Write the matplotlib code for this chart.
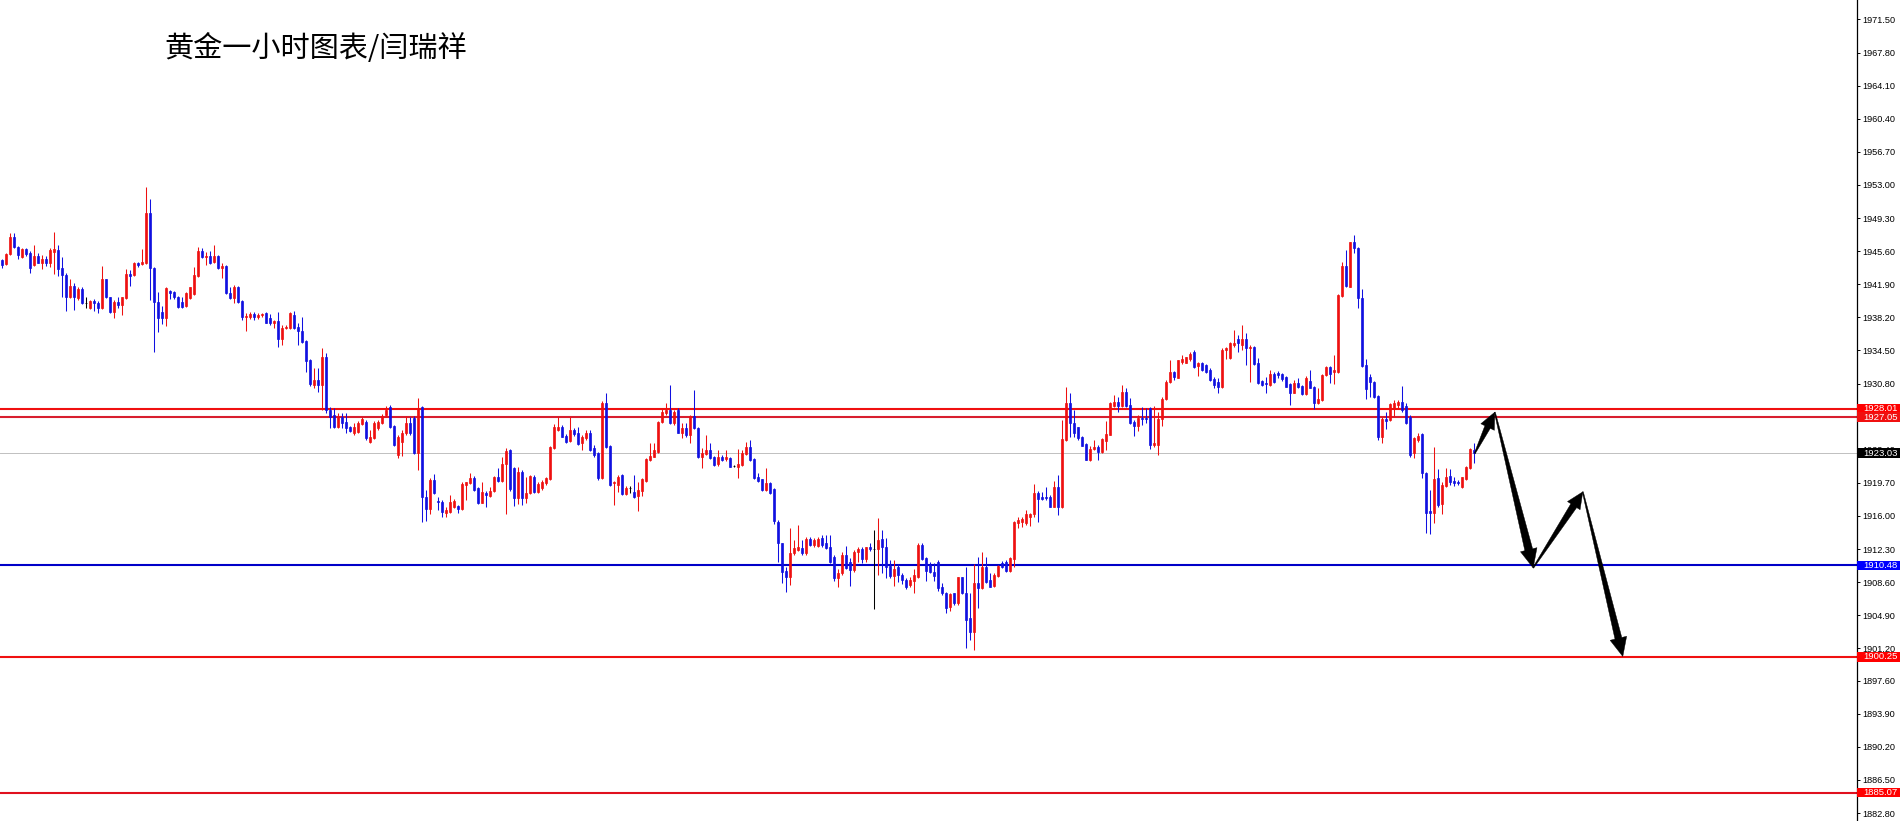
import numpy as np
import matplotlib.pyplot as plt
from matplotlib.patches import Polygon, Rectangle
import matplotlib.transforms as mtransforms


# Hourly gold candles (MT4 style: red = up, blue = down)
opens = [
    1944.61, 1944.12, 1945.28, 1947.14, 1946.10, 1944.98, 1945.80, 1945.43, 1944.05, 1945.05,
    1944.31, 1944.76, 1944.24, 1945.54, 1945.73, 1943.68, 1942.93, 1940.51, 1941.70, 1940.32,
    1941.40, 1939.84, 1939.21, 1940.06, 1939.84, 1939.21, 1942.52, 1940.44, 1938.83, 1939.91,
    1939.58, 1940.32, 1943.04, 1942.93, 1944.24, 1944.16, 1944.24, 1949.90, 1943.68, 1939.95,
    1938.83, 1938.09, 1941.14, 1941.07, 1940.51, 1939.95, 1939.47, 1940.32, 1940.81, 1942.82,
    1945.65, 1944.91, 1945.05, 1944.38, 1945.05, 1943.68, 1943.94, 1940.96, 1940.32, 1941.63,
    1940.06, 1938.20, 1938.20, 1938.57, 1938.27, 1938.46, 1938.65, 1938.09, 1937.53, 1937.83,
    1935.74, 1936.97, 1936.97, 1938.46, 1937.16, 1936.71, 1935.59, 1933.43, 1930.64, 1931.19,
    1930.64, 1933.80, 1927.84, 1927.28, 1925.98, 1927.06, 1926.50, 1925.95, 1925.27, 1925.39,
    1926.28, 1926.50, 1924.27, 1924.71, 1925.83, 1926.39, 1927.29, 1928.18, 1926.06, 1922.81,
    1924.27, 1925.27, 1926.39, 1926.95, 1923.04, 1928.18, 1918.12, 1916.78, 1920.02, 1917.67,
    1917.56, 1916.33, 1916.44, 1917.00, 1917.11, 1916.78, 1919.46, 1919.69, 1920.24, 1919.13,
    1917.45, 1918.57, 1918.23, 1918.79, 1920.36, 1919.91, 1921.81, 1923.37, 1921.36, 1918.01,
    1920.91, 1918.01, 1918.57, 1920.36, 1918.68, 1919.13, 1919.69, 1920.13, 1923.60, 1925.61,
    1925.95, 1924.94, 1924.38, 1925.61, 1925.27, 1924.16, 1924.71, 1925.27, 1923.60, 1923.04,
    1920.24, 1928.63, 1923.82, 1919.69, 1919.46, 1920.58, 1918.45, 1919.13, 1918.68, 1918.23,
    1918.79, 1919.91, 1922.26, 1922.59, 1923.15, 1926.50, 1927.51, 1927.85, 1926.39, 1927.85,
    1925.27, 1925.83, 1925.05, 1927.17, 1925.83, 1922.59, 1922.93, 1923.37, 1922.59, 1921.81,
    1922.59, 1922.37, 1922.48, 1921.58, 1921.47, 1921.70, 1922.93, 1923.71, 1922.37, 1920.36,
    1920.13, 1918.90, 1919.69, 1919.01, 1915.33, 1912.98, 1909.85, 1909.18, 1911.86, 1912.20,
    1912.42, 1911.86, 1913.43, 1912.75, 1912.64, 1913.54, 1912.98, 1912.53, 1911.42, 1909.07,
    1909.62, 1911.64, 1910.86, 1909.96, 1911.97, 1912.31, 1911.19, 1912.53, 1912.31, 1912.31,
    1913.43, 1912.53, 1910.41, 1909.29, 1910.30, 1909.40, 1908.84, 1908.29, 1908.73, 1909.18,
    1912.75, 1911.30, 1910.52, 1909.74, 1910.86, 1908.06, 1907.39, 1905.83, 1907.39, 1906.27,
    1909.18, 1907.39, 1904.60, 1903.03, 1908.51, 1907.95, 1910.30, 1908.84, 1908.17, 1909.29,
    1910.74, 1910.86, 1909.85, 1911.19, 1915.21, 1915.33, 1915.21, 1915.88, 1916.22, 1918.57,
    1918.12, 1918.12, 1918.12, 1917.00, 1919.24, 1917.00, 1924.49, 1928.63, 1926.39, 1925.95,
    1924.83, 1924.04, 1922.26, 1923.48, 1923.71, 1923.15, 1924.38, 1925.05, 1928.29, 1928.74,
    1928.29, 1929.86, 1928.40, 1926.50, 1926.06, 1926.95, 1926.95, 1928.07, 1923.93, 1923.93,
    1926.84, 1929.07, 1930.97, 1932.09, 1931.42, 1933.21, 1933.10, 1933.54, 1934.33, 1932.76,
    1933.10, 1932.87, 1932.32, 1931.31, 1930.97, 1930.41, 1934.55, 1933.65, 1935.11, 1935.78,
    1935.11, 1935.78, 1934.77, 1934.88, 1933.10, 1931.09, 1930.86, 1930.64, 1931.87, 1931.98,
    1931.87, 1931.53, 1930.75, 1929.74, 1930.86, 1930.53, 1929.63, 1931.09, 1930.41, 1928.63,
    1928.96, 1931.76, 1932.65, 1932.09, 1932.09, 1940.59, 1943.94, 1941.59, 1946.62, 1945.95,
    1940.36, 1932.87, 1931.53, 1930.97, 1929.41, 1924.83, 1926.84, 1926.73, 1927.96, 1928.40,
    1928.74, 1928.29, 1927.06, 1923.04, 1924.49, 1925.16, 1920.80, 1916.56, 1916.33, 1920.24,
    1917.34, 1919.35, 1920.47, 1919.91, 1919.80, 1919.24, 1920.13, 1921.36, 1923.40,
]
highs = [
    1944.68, 1945.43, 1947.59, 1947.66, 1946.17, 1945.91, 1945.90, 1945.65, 1946.28, 1945.43,
    1945.17, 1945.05, 1945.91, 1947.77, 1946.28, 1944.98, 1943.12, 1942.45, 1942.00, 1941.55,
    1941.55, 1940.44, 1940.14, 1940.25, 1940.06, 1943.94, 1942.52, 1940.51, 1940.14, 1940.44,
    1940.51, 1943.56, 1943.49, 1944.42, 1944.38, 1945.80, 1952.80, 1951.39, 1943.79, 1941.07,
    1939.47, 1941.55, 1941.25, 1941.18, 1940.59, 1940.44, 1941.07, 1941.63, 1943.86, 1946.10,
    1945.91, 1945.54, 1945.65, 1946.28, 1945.17, 1944.31, 1944.05, 1941.63, 1941.81, 1941.70,
    1940.14, 1938.65, 1938.83, 1938.80, 1938.72, 1938.72, 1938.83, 1938.57, 1937.90, 1938.83,
    1937.34, 1937.34, 1938.83, 1938.95, 1937.53, 1938.20, 1935.67, 1933.50, 1932.50, 1932.50,
    1934.73, 1934.25, 1928.21, 1928.03, 1927.47, 1927.51, 1927.51, 1926.06, 1926.39, 1926.62,
    1927.06, 1926.73, 1925.61, 1926.62, 1926.73, 1927.40, 1928.29, 1928.40, 1926.17, 1925.05,
    1925.61, 1927.17, 1927.06, 1927.17, 1929.18, 1928.30, 1918.90, 1920.24, 1920.69, 1918.12,
    1917.78, 1917.00, 1918.34, 1917.90, 1917.23, 1919.80, 1919.80, 1920.80, 1920.47, 1919.24,
    1919.80, 1918.79, 1919.24, 1920.47, 1921.36, 1922.59, 1923.60, 1923.48, 1921.47, 1921.47,
    1921.14, 1920.36, 1920.58, 1920.58, 1919.80, 1920.02, 1920.36, 1923.82, 1926.28, 1927.06,
    1926.17, 1925.16, 1927.06, 1925.83, 1925.95, 1925.05, 1925.61, 1925.61, 1923.93, 1923.15,
    1928.85, 1929.74, 1923.93, 1919.91, 1920.58, 1920.69, 1919.35, 1919.35, 1920.58, 1919.80,
    1920.24, 1922.48, 1924.16, 1924.16, 1926.62, 1928.07, 1928.63, 1930.64, 1927.85, 1928.07,
    1926.39, 1926.39, 1927.29, 1930.08, 1925.95, 1923.60, 1925.05, 1924.16, 1922.70, 1923.37,
    1922.81, 1923.37, 1922.59, 1921.70, 1923.48, 1923.37, 1924.27, 1924.49, 1922.48, 1920.80,
    1920.13, 1921.36, 1919.80, 1919.13, 1915.55, 1912.98, 1910.30, 1914.65, 1913.31, 1914.99,
    1913.31, 1913.65, 1913.65, 1913.54, 1913.65, 1913.87, 1913.87, 1913.87, 1911.64, 1910.07,
    1911.97, 1912.64, 1911.30, 1912.20, 1912.53, 1912.53, 1912.53, 1912.98, 1914.43, 1915.77,
    1914.43, 1913.54, 1911.08, 1911.08, 1910.63, 1909.62, 1909.07, 1909.18, 1910.07, 1912.98,
    1912.98, 1911.42, 1910.86, 1910.74, 1911.08, 1908.51, 1907.50, 1907.39, 1907.39, 1909.18,
    1909.18, 1910.30, 1907.39, 1910.63, 1911.42, 1911.97, 1911.42, 1909.62, 1909.62, 1910.52,
    1910.97, 1911.08, 1911.42, 1915.44, 1915.88, 1915.88, 1916.67, 1916.33, 1919.57, 1918.79,
    1918.68, 1919.24, 1918.34, 1919.91, 1920.58, 1926.73, 1930.41, 1929.74, 1927.85, 1925.95,
    1924.94, 1924.16, 1923.82, 1924.49, 1923.93, 1924.71, 1926.62, 1928.74, 1929.52, 1929.30,
    1930.64, 1930.30, 1929.18, 1926.73, 1927.29, 1928.18, 1928.07, 1928.18, 1928.29, 1927.62,
    1929.30, 1931.20, 1933.43, 1932.20, 1933.43, 1933.99, 1933.77, 1934.33, 1934.55, 1933.21,
    1933.21, 1932.98, 1932.54, 1931.53, 1931.42, 1934.77, 1934.88, 1935.44, 1936.78, 1936.23,
    1937.35, 1936.45, 1935.11, 1935.00, 1933.65, 1931.20, 1931.53, 1932.32, 1932.09, 1932.20,
    1931.98, 1931.64, 1930.86, 1931.20, 1931.42, 1930.64, 1931.64, 1932.32, 1930.53, 1930.30,
    1931.87, 1932.76, 1932.76, 1933.99, 1940.81, 1944.39, 1945.73, 1946.62, 1947.40, 1946.06,
    1941.37, 1933.54, 1931.87, 1931.09, 1929.52, 1927.06, 1927.62, 1928.63, 1928.96, 1928.96,
    1930.53, 1928.63, 1927.29, 1924.83, 1925.27, 1925.27, 1920.91, 1918.90, 1923.71, 1921.25,
    1919.80, 1921.36, 1921.25, 1920.36, 1920.02, 1920.36, 1921.58, 1923.60, 1924.16,
]
lows = [
    1943.68, 1944.05, 1945.17, 1945.91, 1944.68, 1944.79, 1945.10, 1943.12, 1943.94, 1944.24,
    1943.56, 1943.94, 1943.86, 1943.04, 1942.82, 1940.51, 1938.95, 1940.32, 1939.02, 1940.14,
    1939.69, 1939.21, 1939.10, 1938.95, 1938.65, 1939.10, 1940.32, 1938.72, 1938.09, 1939.21,
    1938.46, 1940.21, 1941.70, 1942.82, 1943.86, 1944.05, 1944.16, 1940.14, 1934.36, 1936.60,
    1937.46, 1937.23, 1940.21, 1940.21, 1939.21, 1939.28, 1939.39, 1940.21, 1940.70, 1942.75,
    1944.79, 1944.05, 1944.16, 1944.24, 1943.56, 1942.56, 1940.81, 1940.21, 1939.84, 1939.76,
    1937.90, 1936.71, 1937.98, 1937.90, 1937.98, 1938.27, 1937.53, 1937.34, 1936.97, 1934.85,
    1935.11, 1936.86, 1936.86, 1936.86, 1935.11, 1935.37, 1932.13, 1930.52, 1930.26, 1929.89,
    1927.84, 1927.54, 1925.79, 1925.79, 1925.79, 1925.83, 1925.27, 1925.39, 1925.05, 1925.27,
    1926.17, 1924.49, 1924.16, 1924.60, 1925.61, 1926.28, 1927.06, 1925.83, 1923.82, 1922.48,
    1922.70, 1925.05, 1925.05, 1922.93, 1921.14, 1915.33, 1915.44, 1916.22, 1918.45, 1916.67,
    1915.88, 1915.88, 1916.33, 1916.89, 1916.33, 1916.67, 1917.78, 1919.57, 1918.79, 1917.34,
    1917.45, 1917.00, 1918.12, 1918.68, 1919.80, 1919.80, 1916.22, 1918.79, 1917.11, 1917.34,
    1917.23, 1917.45, 1918.45, 1918.57, 1918.57, 1918.90, 1919.46, 1920.02, 1923.48, 1925.50,
    1924.83, 1924.16, 1924.27, 1924.94, 1923.93, 1923.37, 1924.49, 1923.26, 1922.59, 1920.02,
    1920.13, 1923.60, 1919.35, 1917.23, 1918.68, 1918.34, 1918.34, 1918.57, 1918.01, 1916.56,
    1918.23, 1919.80, 1922.14, 1922.59, 1923.04, 1926.39, 1927.29, 1926.28, 1926.17, 1925.27,
    1924.71, 1924.83, 1924.16, 1925.72, 1922.48, 1921.36, 1922.81, 1922.37, 1921.58, 1921.58,
    1922.14, 1922.14, 1921.47, 1921.47, 1920.24, 1921.58, 1922.81, 1922.14, 1920.13, 1919.80,
    1918.79, 1918.79, 1918.45, 1915.10, 1910.86, 1908.51, 1907.50, 1908.29, 1911.64, 1912.09,
    1911.64, 1911.64, 1912.64, 1912.53, 1912.53, 1912.53, 1912.31, 1910.74, 1908.73, 1908.06,
    1909.40, 1910.07, 1908.17, 1909.74, 1910.86, 1910.74, 1910.86, 1912.09, 1905.60, 1909.40,
    1909.62, 1909.07, 1909.07, 1908.17, 1908.62, 1908.40, 1907.84, 1908.06, 1907.39, 1909.07,
    1911.08, 1908.73, 1909.62, 1908.73, 1907.62, 1907.17, 1905.16, 1905.38, 1906.05, 1906.05,
    1907.28, 1901.24, 1902.14, 1901.02, 1905.71, 1907.84, 1908.51, 1908.06, 1908.06, 1909.18,
    1910.18, 1909.74, 1909.74, 1910.30, 1914.65, 1914.76, 1914.99, 1914.88, 1915.88, 1915.33,
    1917.78, 1917.78, 1917.00, 1917.00, 1916.11, 1916.89, 1924.38, 1924.83, 1924.83, 1924.49,
    1923.82, 1922.26, 1922.14, 1923.37, 1922.26, 1923.04, 1923.37, 1925.05, 1928.18, 1927.62,
    1928.18, 1928.18, 1926.28, 1924.94, 1925.50, 1926.17, 1926.39, 1923.48, 1923.71, 1922.81,
    1926.06, 1928.96, 1930.86, 1931.20, 1931.42, 1932.98, 1933.10, 1933.32, 1932.54, 1931.64,
    1932.20, 1931.98, 1931.09, 1930.30, 1929.74, 1930.30, 1933.54, 1933.54, 1934.88, 1934.33,
    1934.55, 1932.87, 1930.97, 1932.87, 1930.75, 1930.53, 1929.74, 1930.53, 1930.86, 1931.42,
    1931.09, 1930.41, 1928.40, 1929.74, 1930.30, 1929.52, 1929.52, 1930.30, 1927.96, 1928.51,
    1928.85, 1931.64, 1930.86, 1930.75, 1931.98, 1940.47, 1941.59, 1941.59, 1945.40, 1939.25,
    1932.65, 1929.07, 1929.30, 1929.18, 1924.49, 1924.16, 1925.72, 1926.62, 1927.06, 1927.96,
    1927.62, 1926.28, 1922.59, 1922.48, 1924.27, 1920.24, 1914.10, 1913.99, 1915.21, 1917.00,
    1916.22, 1919.24, 1919.46, 1919.35, 1919.46, 1919.13, 1920.02, 1921.25, 1921.92,
]
closes = [
    1944.05, 1945.28, 1947.22, 1946.10, 1945.17, 1945.80, 1945.28, 1943.68, 1945.05, 1944.31,
    1944.76, 1944.24, 1945.73, 1945.80, 1943.56, 1942.93, 1940.51, 1941.70, 1940.51, 1941.33,
    1939.76, 1939.84, 1940.06, 1939.84, 1939.21, 1942.45, 1940.44, 1938.83, 1939.95, 1939.58,
    1940.44, 1943.04, 1942.82, 1944.24, 1944.09, 1944.38, 1949.90, 1943.68, 1939.95, 1938.09,
    1938.09, 1941.44, 1940.96, 1940.44, 1939.32, 1939.32, 1940.88, 1941.63, 1942.93, 1945.65,
    1944.91, 1945.05, 1944.31, 1945.05, 1943.68, 1943.94, 1940.88, 1940.32, 1941.63, 1939.95,
    1938.20, 1938.35, 1938.57, 1938.20, 1938.46, 1938.57, 1937.60, 1937.53, 1937.83, 1935.74,
    1936.97, 1937.16, 1938.65, 1936.97, 1936.71, 1935.48, 1933.36, 1930.75, 1931.19, 1930.64,
    1933.80, 1927.84, 1927.10, 1925.98, 1927.10, 1926.39, 1925.83, 1925.50, 1925.95, 1926.39,
    1926.84, 1924.71, 1924.83, 1926.39, 1926.50, 1927.17, 1927.85, 1925.95, 1923.93, 1924.83,
    1925.27, 1926.39, 1925.27, 1923.04, 1928.07, 1918.12, 1916.78, 1920.02, 1918.57, 1917.56,
    1916.44, 1916.67, 1917.56, 1917.67, 1916.78, 1919.57, 1919.80, 1920.24, 1918.90, 1917.45,
    1918.68, 1918.34, 1918.79, 1920.36, 1919.91, 1921.81, 1923.26, 1919.01, 1918.01, 1920.91,
    1918.01, 1918.57, 1920.47, 1918.68, 1919.57, 1919.80, 1920.24, 1923.71, 1925.95, 1925.95,
    1924.83, 1924.27, 1925.61, 1925.16, 1924.04, 1924.83, 1925.27, 1923.37, 1922.81, 1920.24,
    1928.63, 1923.71, 1919.46, 1919.80, 1920.36, 1918.45, 1919.13, 1919.13, 1918.12, 1918.90,
    1920.13, 1922.37, 1922.70, 1923.37, 1926.50, 1927.62, 1927.85, 1926.39, 1927.62, 1925.27,
    1925.83, 1925.05, 1927.17, 1925.83, 1922.59, 1923.04, 1923.37, 1922.48, 1921.70, 1922.59,
    1922.26, 1922.59, 1921.47, 1921.58, 1921.81, 1923.04, 1923.71, 1922.26, 1920.24, 1919.91,
    1918.90, 1919.69, 1918.57, 1915.44, 1912.98, 1909.74, 1909.18, 1911.86, 1912.42, 1912.53,
    1911.86, 1913.43, 1912.75, 1913.31, 1913.43, 1912.75, 1912.42, 1910.86, 1909.07, 1909.62,
    1911.64, 1910.18, 1909.96, 1911.97, 1912.31, 1911.19, 1912.53, 1912.31, 1912.31, 1913.31,
    1912.53, 1910.30, 1909.29, 1910.07, 1909.40, 1908.84, 1908.06, 1908.84, 1909.40, 1912.75,
    1911.19, 1909.85, 1909.74, 1909.29, 1907.95, 1907.39, 1905.71, 1907.28, 1906.27, 1909.18,
    1907.39, 1904.37, 1903.03, 1908.51, 1907.95, 1910.30, 1908.62, 1908.06, 1909.40, 1910.41,
    1910.30, 1909.85, 1911.30, 1915.33, 1915.55, 1915.66, 1916.22, 1916.22, 1918.57, 1917.90,
    1917.90, 1918.01, 1917.00, 1919.24, 1917.00, 1924.60, 1928.63, 1926.39, 1925.27, 1924.71,
    1923.82, 1922.26, 1923.48, 1923.71, 1923.15, 1924.60, 1925.16, 1928.63, 1928.74, 1928.29,
    1929.86, 1928.29, 1926.39, 1926.06, 1926.95, 1926.84, 1926.84, 1923.93, 1924.16, 1926.84,
    1929.07, 1930.97, 1932.09, 1931.53, 1933.43, 1933.54, 1933.77, 1934.10, 1932.65, 1933.10,
    1932.32, 1932.09, 1931.20, 1930.64, 1930.41, 1934.55, 1934.77, 1935.33, 1935.33, 1935.33,
    1935.78, 1934.77, 1934.88, 1932.98, 1930.86, 1930.64, 1930.75, 1931.87, 1930.97, 1931.76,
    1931.31, 1930.41, 1929.74, 1930.86, 1930.41, 1929.63, 1931.42, 1930.30, 1928.63, 1929.07,
    1931.76, 1932.65, 1931.87, 1932.32, 1940.70, 1943.94, 1941.70, 1946.62, 1945.95, 1940.36,
    1932.76, 1930.19, 1930.97, 1929.30, 1924.83, 1926.84, 1926.62, 1928.51, 1928.63, 1928.74,
    1927.85, 1926.39, 1922.81, 1924.71, 1924.94, 1920.80, 1916.33, 1916.33, 1920.13, 1917.23,
    1919.46, 1920.36, 1919.80, 1919.69, 1919.69, 1920.36, 1921.47, 1923.48, 1923.03,
]

# Horizontal levels and their price-scale boxes
level_values = [1928.01, 1927.05, 1923.03, 1910.48, 1900.25, 1885.07]
level_colors = ['#F01010', '#D81E2E', '#C0C0C0', '#0000C8', '#F01010', '#E0101E']
level_widths = [1.5, 1.5, 0.7, 1.5, 1.5, 1.5]
box_colors = ['#FF0000', '#F01010', '#000000', '#0000FF', '#FF0000', '#FF0000']

# Price axis tick labels
tick_values = [1971.50, 1967.80, 1964.10, 1960.40, 1956.70, 1953.00, 1949.30, 1945.60,
               1941.90, 1938.20, 1934.50, 1930.80, 1927.10, 1923.40, 1919.70, 1916.00,
               1912.30, 1908.60, 1904.90, 1901.20, 1897.60, 1893.90, 1890.20, 1886.50,
               1882.80]

# Projected path (bar index, price) for the forecast arrows
path_x = [368.2, 373.2, 382.8, 395.2, 405.2]
path_y = [1923.0, 1927.6, 1910.2, 1918.7, 1900.3]
head_widths = [15, 17, 15, 17]
shaft_widths = [6, 8, 7, 7]

title = '黄金一小时图表/闫瑞祥'

plt.rcParams['font.family'] = ['Liberation Sans', 'Noto Sans CJK SC', 'DejaVu Sans']

W, H = 1900, 821
fig = plt.figure(figsize=(W / 100, H / 100), dpi=100)
fig.patch.set_facecolor('white')
ax = fig.add_axes([0, 0, 1857 / W, 1])
ax.set_xlim(-0.5, 463.75)
ax.set_ylim(1881.91, 1973.67)

o = np.array(opens)
h = np.array(highs)
l = np.array(lows)
c = np.array(closes)
x = np.arange(len(o))
cols = np.where(c > o, '#EE1010', np.where(c < o, '#1010E0', '#000000'))

ax.vlines(x, l, h, colors=cols, linewidth=0.75, zorder=3)
ax.bar(x, np.abs(c - o), bottom=np.minimum(o, c), width=0.6, color=cols,
       edgecolor=cols, linewidth=0.5, zorder=4)

for v, col, lw in zip(level_values, level_colors, level_widths):
    ax.axhline(v, color=col, linewidth=lw, zorder=2)

# axis styling
for s in ['top', 'left', 'bottom']:
    ax.spines[s].set_visible(False)
ax.spines['right'].set_color('black')
ax.spines['right'].set_linewidth(0.9)
ax.set_xticks([])
ax.yaxis.tick_right()
ax.set_yticks(tick_values)
ax.set_yticklabels([f'{v:.2f}' for v in tick_values])
ax.tick_params(axis='y', length=2.2, width=0.7, pad=2, labelsize=6.6, colors='black')

# price boxes on the scale
trans = mtransforms.blended_transform_factory(fig.transFigure, ax.transData)
box_h = 9.5 / 8.947
for v, bc in zip(level_values, box_colors):
    ax.add_patch(Rectangle((1857 / W, v - box_h / 2), 43 / W, box_h, transform=trans,
                           facecolor=bc, edgecolor='none', clip_on=False, zorder=10))
    ax.text(1863 / W, v, f'{v:.2f}', transform=trans, color='white', fontsize=6.8,
            va='center', ha='left', clip_on=False, zorder=11)

# forecast arrows, built in pixel space
fig.canvas.draw()
to_px = ax.transData
to_data = ax.transData.inverted()
for k in range(len(path_x) - 1):
    s = to_px.transform((path_x[k], path_y[k]))
    e = to_px.transform((path_x[k + 1], path_y[k + 1]))
    d = e - s
    u = d / np.hypot(*d)
    n = np.array([-u[1], u[0]])
    hw = head_widths[k]
    hl = hw * 1.1
    sw = shaft_widths[k]
    b = e - u * hl
    pts = [s + n * 0.5, b + n * sw / 2, b + n * hw / 2, e,
           b - n * hw / 2, b - n * sw / 2, s - n * 0.5]
    pts = to_data.transform(np.array(pts))
    ax.add_patch(Polygon(pts, closed=True, facecolor='black', edgecolor='black',
                         linewidth=0.3, zorder=8, clip_on=False))

fig.text(164 / W, 1 - 49 / H, title, fontsize=21, family=['Noto Sans CJK SC'],
         va='center', ha='left', color='black')

fig.savefig('out.png', dpi=100, facecolor='white')
